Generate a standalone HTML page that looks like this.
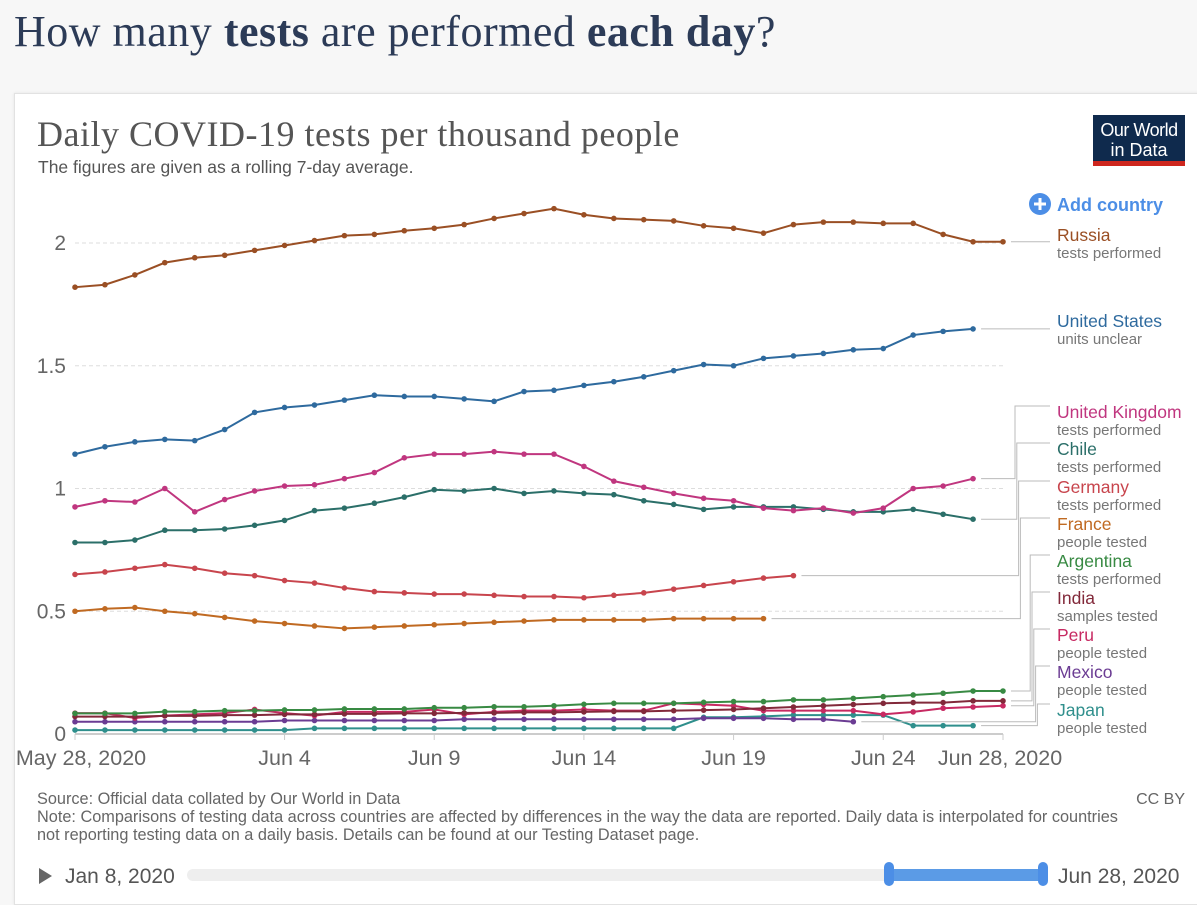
<!DOCTYPE html>
<html><head><meta charset="utf-8"><style>
body{margin:0;width:1197px;height:894px;background:#f7f7f7;overflow:hidden;font-family:"Liberation Sans",sans-serif;}
#main-title{position:absolute;left:14px;top:6px;font-family:"Liberation Serif",serif;font-size:44px;letter-spacing:0.5px;color:#2c3b57;margin:0;font-weight:normal;}
#card{position:absolute;left:14px;top:93px;width:1190px;height:810px;background:#fff;border:1px solid #e2e2e2;box-shadow:0 0 3px rgba(0,0,0,.08);}
svg{position:absolute;left:0;top:0;}
</style></head><body>
<h1 id="main-title">How many <b>tests</b> are performed <b>each day</b>?</h1>
<div id="card"></div>
<svg id="chart" width="1197" height="894" font-family="Liberation Sans, sans-serif"></svg>
<script>
const dates=["May 28, 2020","Jun 4","Jun 9","Jun 14","Jun 19","Jun 24","Jun 28, 2020"];
const dateIdx=[0,7,12,17,22,27,31];
const yTicks=[0,0.5,1,1.5,2];
const yTickLabels=["0","0.5","1","1.5","2"];
const names=["Russia","United States","United Kingdom","Chile","Germany","France","Argentina","India","Peru","Mexico","Japan"];
const subs=["tests performed","units unclear","tests performed","tests performed","tests performed","people tested","tests performed","samples tested","people tested","people tested","people tested"];
const colors=["#9a4f24","#2e6a9e","#c0367f","#2b6f69","#c8454d","#c06a22","#388a43","#82293a","#c72a62","#6b3c93","#2f8f8c"];
const russia=[1.82,1.83,1.87,1.92,1.94,1.95,1.97,1.99,2.01,2.03,2.035,2.05,2.06,2.075,2.10,2.12,2.14,2.115,2.10,2.095,2.09,2.07,2.06,2.04,2.075,2.085,2.085,2.08,2.08,2.035,2.005,2.005];
const us=[1.14,1.17,1.19,1.20,1.195,1.24,1.31,1.33,1.34,1.36,1.38,1.375,1.375,1.365,1.355,1.395,1.40,1.42,1.435,1.455,1.48,1.505,1.50,1.53,1.54,1.55,1.565,1.57,1.625,1.64,1.65];
const uk=[0.925,0.95,0.945,1.00,0.905,0.955,0.99,1.01,1.015,1.04,1.065,1.125,1.14,1.14,1.15,1.14,1.14,1.09,1.03,1.005,0.98,0.96,0.95,0.92,0.91,0.92,0.90,0.92,1.00,1.01,1.04];
const chile=[0.78,0.78,0.79,0.83,0.83,0.835,0.85,0.87,0.91,0.92,0.94,0.965,0.995,0.99,1.00,0.98,0.99,0.98,0.975,0.95,0.935,0.915,0.925,0.925,0.925,0.915,0.905,0.905,0.915,0.895,0.875];
const germany=[0.65,0.66,0.675,0.69,0.675,0.655,0.645,0.625,0.615,0.595,0.58,0.575,0.57,0.57,0.565,0.56,0.56,0.555,0.565,0.575,0.59,0.605,0.62,0.635,0.645];
const france=[0.50,0.51,0.515,0.50,0.49,0.475,0.46,0.45,0.44,0.43,0.435,0.44,0.445,0.45,0.455,0.46,0.465,0.465,0.465,0.465,0.47,0.47,0.47,0.47];
const argentina=[0.084,0.084,0.084,0.091,0.091,0.095,0.095,0.098,0.098,0.102,0.102,0.102,0.107,0.107,0.111,0.111,0.115,0.121,0.125,0.125,0.125,0.129,0.132,0.132,0.139,0.139,0.145,0.152,0.159,0.166,0.175,0.175];
const india=[0.071,0.071,0.071,0.074,0.074,0.077,0.077,0.080,0.080,0.082,0.082,0.084,0.084,0.086,0.086,0.088,0.088,0.090,0.092,0.092,0.095,0.097,0.100,0.105,0.110,0.115,0.120,0.125,0.128,0.128,0.135,0.135];
const peru=[0.085,0.085,0.065,0.075,0.080,0.085,0.10,0.085,0.075,0.090,0.090,0.090,0.10,0.080,0.090,0.095,0.095,0.10,0.095,0.095,0.125,0.120,0.115,0.095,0.095,0.095,0.095,0.080,0.090,0.105,0.110,0.115];
const mexico=[0.05,0.05,0.05,0.05,0.05,0.05,0.05,0.055,0.055,0.055,0.055,0.055,0.055,0.06,0.06,0.06,0.06,0.06,0.06,0.06,0.06,0.064,0.064,0.064,0.06,0.06,0.05];
const japan=[0.016,0.016,0.016,0.016,0.016,0.016,0.016,0.016,0.023,0.023,0.023,0.023,0.023,0.023,0.023,0.023,0.023,0.023,0.023,0.023,0.023,0.068,0.068,0.072,0.077,0.077,0.077,0.077,0.034,0.034,0.034];
const series=[russia,us,uk,chile,germany,france,argentina,india,peru,mexico,japan];
const labelY=[235,321,412,449,487,524,561,598,635,672,710];

const X0=75,DX=(1003-75)/31,Y0=734,KY=245.5;
const xs=i=>X0+i*DX, ys=v=>Y0-v*KY;
const svg=document.getElementById('chart');const NS="http://www.w3.org/2000/svg";
function el(t,a,p){const e=document.createElementNS(NS,t);for(const k in a)e.setAttribute(k,a[k]);(p||svg).appendChild(e);return e;}
function txt(s,a){const e=el('text',a);e.textContent=s;return e;}

let t=txt("Daily COVID-19 tests per thousand people",{x:37,y:146,'font-family':'Liberation Serif, serif','font-size':36,'letter-spacing':0.5,fill:'#555'});

t=txt("The figures are given as a rolling 7-day average.",{x:38,y:173,'font-size':17.5,fill:'#555'});

let logo=el('g',{});
el('rect',{x:1093,y:115,width:92,height:47,fill:'#0f2a4d'},logo);el('rect',{x:1093,y:161,width:92,height:5,fill:'#ce261e'},logo);
let lt=el('text',{x:1139,y:136,'font-size':18,'letter-spacing':-0.5,fill:'#fff','text-anchor':'middle'},logo);lt.textContent="Our World";
lt=el('text',{x:1139,y:156,'font-size':18,fill:'#fff','text-anchor':'middle'},logo);lt.textContent="in Data";
let add=el('g',{});
el('circle',{cx:1040,cy:204,r:11,fill:'#4c8ee6'},add);
el('path',{d:'M1034 204h12M1040 198v12',stroke:'#fff','stroke-width':3},add);
lt=el('text',{x:1057,y:211,'font-size':18,'font-weight':'bold',fill:'#4c8ee6'},add);lt.textContent="Add country";

yTicks.forEach((v,i)=>{
  if(v>0){const g=el('line',{x1:X0,x2:1003,y1:ys(v),y2:ys(v),stroke:'#ddd','stroke-dasharray':'4,3'});}
  const l=txt(yTickLabels[i],{x:66,y:ys(v)+7,'font-size':21,fill:'#666','text-anchor':'end'});
  
});
el('line',{x1:X0,x2:1003,y1:Y0,y2:Y0,stroke:'#ccc','stroke-width':2});
dates.forEach((d,i)=>{
  const x=xs(dateIdx[i]);el('line',{x1:x,x2:x,y1:Y0,y2:Y0+6,stroke:'#ccc'});
  const l=txt(d,{x:i==0?81:(i==6?1000:x),y:765,'font-size':21.5,fill:'#666','text-anchor':'middle'});
  
});
for(let s=series.length-1;s>=0;s--){
  const d=series[s];const pts=d.map((v,i)=>xs(i)+','+ys(v)).join(' ');
  const pl=el('polyline',{points:pts,fill:'none',stroke:colors[s],'stroke-width':2});
  
  
  d.forEach((v,i)=>{const c=el('circle',{cx:xs(i),cy:ys(v),r:2.8,fill:colors[s]});
    
    });
}
series.forEach((d,s)=>{
  const ex=xs(d.length-1)+8, ey=ys(d[d.length-1]), ly=labelY[s]+(s<2?5:-6);
  const bend=s<2?null:1015+(s-2)*1.8;
  let p;
  if(s<2) p=`M${ex} ${ey}H1050`;
  else p=`M${ex} ${ey}H${bend+ (s>=6?8:0)}V${ly}H1050`;
  const ln=el('path',{d:p,fill:'none',stroke:'#bbb','stroke-width':1});
  
  const n=txt(names[s],{x:1057,y:labelY[s]+6,'font-size':17.5,fill:colors[s]});
  
  const sb=txt(subs[s],{x:1057,y:labelY[s]+23,'font-size':15,fill:'#777'});
  
});
const foot=[["Source: Official data collated by Our World in Data",804],["Note: Comparisons of testing data across countries are affected by differences in the way the data are reported. Daily data is interpolated for countries",822],["not reporting testing data on a daily basis. Details can be found at our Testing Dataset page.",840]];
foot.forEach(f=>{const l=txt(f[0],{x:37,y:f[1],'font-size':16.3,fill:'#666'});});
t=txt("CC BY",{x:1185,y:804,'font-size':16,fill:'#666','text-anchor':'end'});
let pb=el('path',{d:'M39 868L52 876L39 884Z',fill:'#666'});
t=txt("Jan 8, 2020",{x:65,y:883,'font-size':21,fill:'#555'});
t=txt("Jun 28, 2020",{x:1058,y:883,'font-size':21,fill:'#555'});
let tr=el('rect',{x:187,y:869,width:855,height:12,rx:6,fill:'#eee'});
let sel=el('rect',{x:889,y:869,width:154,height:12,fill:'#5b9be6'});
[889,1043].forEach(x=>{const h=el('rect',{x:x-5,y:862,width:10,height:24,rx:5,fill:'#4c8ee6'});});
</script>
</body></html>
